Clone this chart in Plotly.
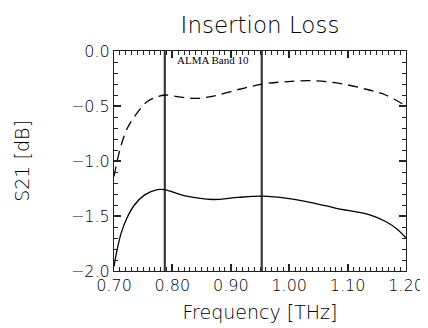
import plotly.graph_objects as go

# Data
freq_dashed = [0.700, 0.711, 0.723, 0.740, 0.757, 0.772, 0.787, 0.815, 0.841, 0.870,
               0.913, 0.955, 0.992, 1.037, 1.081, 1.126, 1.165, 1.200]
s21_dashed = [-1.14, -0.88, -0.70, -0.56, -0.46, -0.42, -0.40, -0.42, -0.43, -0.41,
              -0.35, -0.30, -0.28, -0.27, -0.29, -0.34, -0.40, -0.50]

freq_solid = [0.700, 0.704, 0.712, 0.722, 0.735, 0.752, 0.774, 0.786, 0.824, 0.869, 0.913,
              0.955, 0.997, 1.040, 1.081, 1.138, 1.165, 1.185, 1.200]
s21_solid = [-1.96, -1.84, -1.66, -1.52, -1.40, -1.31, -1.26, -1.26, -1.32, -1.35, -1.33,
             -1.32, -1.34, -1.38, -1.43, -1.49, -1.55, -1.62, -1.70]

band_edges = [0.787, 0.953]
band_label = "ALMA Band 10"
x_ticks = [0.70, 0.80, 0.90, 1.00, 1.10, 1.20]
x_ticklabels = ["0.70", "0.80", "0.90", "1.00", "1.10", "1.20"]
y_ticks = [0.0, -0.5, -1.0, -1.5, -2.0]
y_ticklabels = ["0.0", "\u22120.5", "\u22121.0", "\u22121.5", "\u22122.0"]

FONT = "DejaVu Sans"
INK = "#000000"
AX = "#222222"

fig = go.Figure()

for xe in band_edges:
    fig.add_trace(go.Scatter(x=[xe, xe], y=[y_ticks[-1], y_ticks[0]], mode="lines",
                             line=dict(color="#3a3a3a", width=2.2), showlegend=False,
                             hoverinfo="skip"))

fig.add_trace(go.Scatter(x=freq_dashed, y=s21_dashed, mode="lines",
                         line=dict(color="black", width=1.3, dash="10px,6px", shape="spline"),
                         showlegend=False))
fig.add_trace(go.Scatter(x=freq_solid, y=s21_solid, mode="lines",
                         line=dict(color="black", width=1.3, shape="spline"),
                         showlegend=False))

fig.add_annotation(x=(band_edges[0] + band_edges[1]) / 2, y=-0.08, text=band_label,
                   showarrow=False, xref="x", yref="y",
                   font=dict(family="Liberation Serif", size=11, color="black"))

fig.update_layout(
    template="simple_white",
    width=428, height=328,
    margin=dict(l=106, r=24, t=43, b=65),
    font=dict(family=FONT, color=INK),
    title=dict(text="Insertion Loss", x=0.5, xanchor="center", xref="paper",
               y=1 - 17 / 328, yanchor="middle",
               font=dict(size=23, family=FONT, color=INK, weight=300)),
)

fig.update_xaxes(
    range=[x_ticks[0], x_ticks[-1]], tickvals=x_ticks, ticktext=x_ticklabels,
    showline=True, mirror="allticks", linecolor=AX,
    ticks="inside", ticklen=7, tickwidth=1.5, tickcolor=AX,
    minor=dict(dtick=0.01, ticks="inside", ticklen=4, tickwidth=1, tickcolor=AX),
    tickfont=dict(size=16, family=FONT, color=INK, weight=300),
    title=dict(text="Frequency [THz]", font=dict(size=19, family=FONT, color=INK, weight=300),
               standoff=11),
)
fig.update_yaxes(
    range=[y_ticks[-1], y_ticks[0]], tickvals=y_ticks, ticktext=y_ticklabels,
    showline=True, mirror="allticks", linecolor=AX,
    ticks="inside", ticklen=7, tickwidth=1.5, tickcolor=AX,
    minor=dict(dtick=0.1, ticks="inside", ticklen=4, tickwidth=1, tickcolor=AX),
    tickfont=dict(size=16, family=FONT, color=INK, weight=300),
    title=dict(text="S21 [dB]", font=dict(size=19, family=FONT, color=INK, weight=300),
               standoff=36),
)

fig.write_html("out.html")
